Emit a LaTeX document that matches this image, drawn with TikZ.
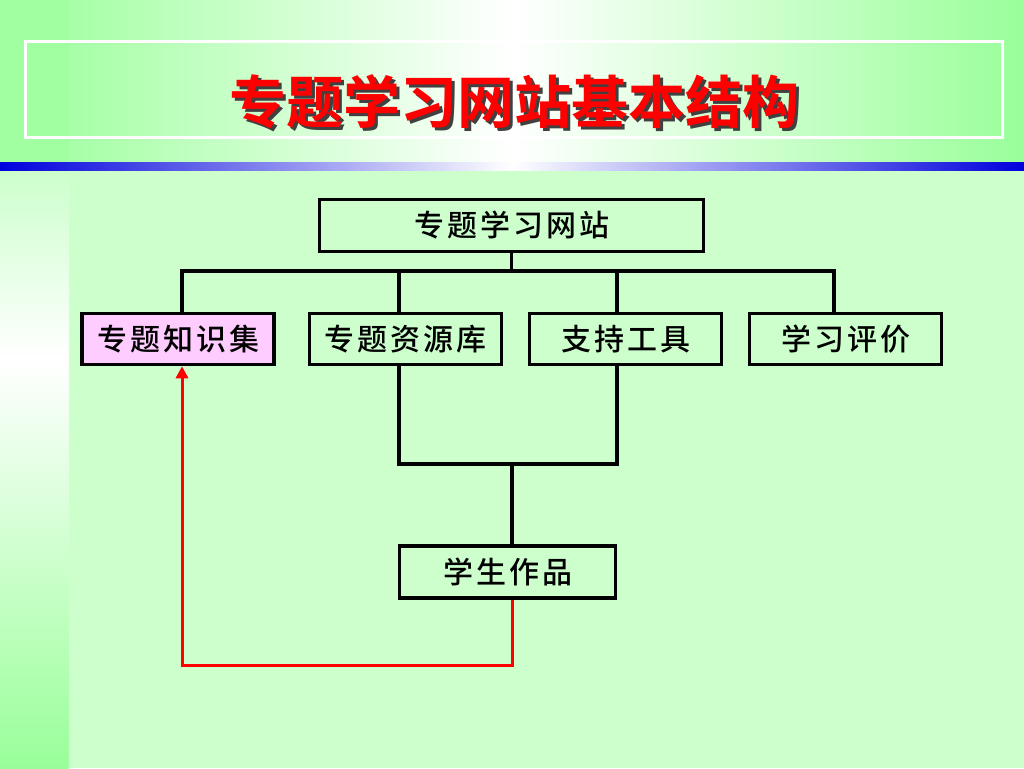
\documentclass[tikz,border=0pt]{standalone}
\usepackage{fontspec}
\newfontfamily\cjk[LetterSpace=10]{Noto Sans CJK SC Medium}
\newfontfamily\cjktitle{Noto Sans CJK SC Bold}
\usetikzlibrary{positioning,arrows.meta}
\definecolor{bg}{HTML}{CCFFCC}
\definecolor{bandgreen}{HTML}{99FF99}
\definecolor{pinkbox}{HTML}{FFCCFF}
\definecolor{lineblue}{HTML}{0000DD}
\begin{document}
\begin{tikzpicture}[x=1pt,y=-1pt,
    box/.style={draw,line width=3.5pt,fill=bg,minimum width=192pt,minimum height=51pt,inner sep=0pt,font=\cjk\fontsize{30}{32}\selectfont},
    link/.style={line width=3.5pt}]
  \useasboundingbox (0,0) rectangle (1024,768);
  % background
  \fill[bg] (0,0) rectangle (1024,768);
  \shade[left color=bandgreen,right color=bandgreen,middle color=white] (0,0) rectangle (1024,162);
  \fill[bandgreen!92!white] (0,0) rectangle (69,162);
  \shade[top color=bg,bottom color=white] (0,170) rectangle (69,360);
  \shade[top color=white,bottom color=bandgreen] (0,360) rectangle (69,768);
  \shade[left color=lineblue,right color=lineblue,middle color=white] (0,162) rectangle (1024,170);
  \draw[white,line width=3pt] (25,42) rectangle (1002,137);
  % title
  \node[font=\cjktitle\fontsize{57}{60}\selectfont,text=black!75] (titleshadow) at (517,105) {专题学习网站基本结构};
  \node[font=\cjktitle\fontsize{57}{60}\selectfont,text=red] (title) at (514,102) {专题学习网站基本结构};
  % boxes
  \node[box,minimum width=384pt,minimum height=52pt] (root) at (511.5,225.5) {专题学习网站};
  \node[box,fill=pinkbox] (zsj) at (178,339) {专题知识集};
  \node[box] (zyk) at (405.5,339) {专题资源库};
  \node[box] (zcgj) at (625.5,339) {支持工具};
  \node[box] (xxpj) at (845.5,339) {学习评价};
  \node[box,minimum width=216pt,minimum height=52pt] (xszp) at (507.5,572) {学生作品};
  % connectors
  \coordinate (d1) at (182,271);
  \coordinate (d2) at (399,271);
  \coordinate (d3) at (617,271);
  \coordinate (d4) at (834,271);
  \coordinate (m) at (512,464);
  \coordinate (r) at (512,665);
  \draw[link] (root.south) -- (root.south |- d1);
  \draw[link,line cap=rect] (d1) -- (d4);
  \foreach \d/\n in {d1/zsj,d2/zyk,d3/zcgj,d4/xxpj}
    \draw[link] (\d) -- (\d |- \n.north);
  \draw[link,line cap=rect] (d2 |- zyk.south) -- (d2 |- m) -- (d3 |- m) -- (d3 |- zcgj.south);
  \draw[link] (m) -- (m |- xszp.north);
  \draw[red,line width=3pt,-{Triangle[length=12pt,width=12pt]}] (m |- xszp.south) -- (r) -| (d1 |- zsj.south);
\end{tikzpicture}
\end{document}
